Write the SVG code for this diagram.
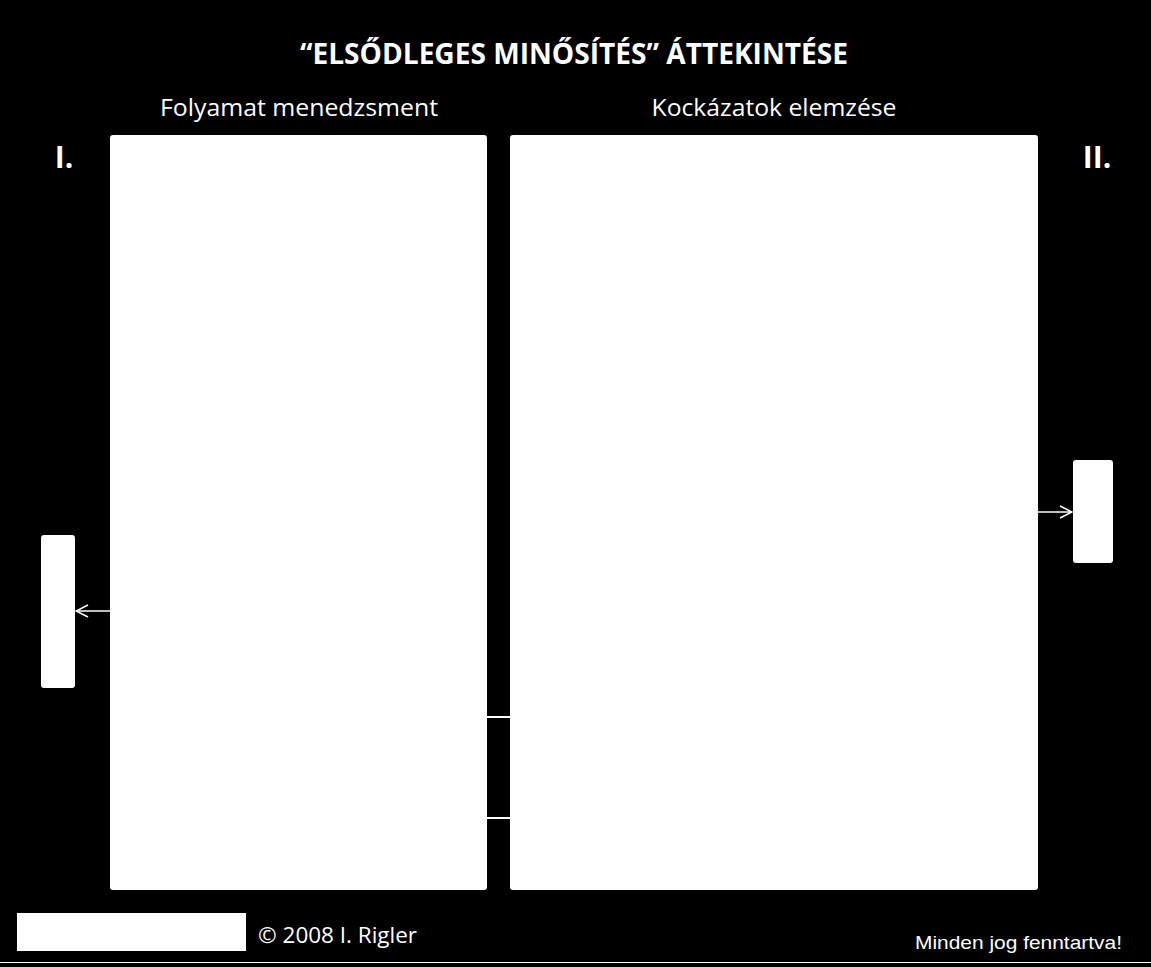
<svg xmlns="http://www.w3.org/2000/svg" width="1151" height="967" viewBox="0 0 1151 967">
<defs>
<style>
.bg{fill:#000}
.box{fill:#fff}
.t{fill:#fff;font-family:"Open Sans","Liberation Sans",sans-serif}
.conn{stroke:#fff;stroke-width:1.5;fill:none}
.bar{stroke:#fff;stroke-width:2;fill:none}
</style>
<marker id="arr" viewBox="0 0 14 14" refX="13" refY="7" markerWidth="14" markerHeight="14" markerUnits="userSpaceOnUse" orient="auto">
<path d="M1,1 L13,7 L1,13" fill="none" stroke="#fff" stroke-width="1.5"/>
</marker>
</defs>
<rect class="bg" x="0" y="0" width="1151" height="967"/>
<line x1="0" y1="962.5" x2="1151" y2="962.5" stroke="#fff" stroke-width="1"/>
<text class="t" x="574" y="64" font-size="28" font-weight="bold" text-anchor="middle" textLength="548" lengthAdjust="spacingAndGlyphs">“ELSŐDLEGES MINŐSÍTÉS” ÁTTEKINTÉSE</text>
<text class="t" x="299" y="116" font-size="24" text-anchor="middle" textLength="278" lengthAdjust="spacingAndGlyphs">Folyamat menedzsment</text>
<text class="t" x="774" y="116" font-size="24" text-anchor="middle" textLength="245" lengthAdjust="spacingAndGlyphs">Kockázatok elemzése</text>
<text class="t" x="64" y="168" font-size="30" font-weight="bold" text-anchor="middle">I.</text>
<text class="t" x="1097" y="168" font-size="30" font-weight="bold" text-anchor="middle">II.</text>
<g id="box-folyamat"><rect class="box" x="110" y="135" width="377" height="755" rx="3"/></g>
<g id="box-kockazat"><rect class="box" x="510" y="135" width="528" height="755" rx="3"/></g>
<g id="box-left-small"><rect class="box" x="41" y="535" width="34" height="153" rx="3"/></g>
<g id="box-right-small"><rect class="box" x="1073" y="460" width="40" height="103" rx="3"/></g>
<g id="connectors">
<line class="conn" x1="110" y1="611" x2="76" y2="611" marker-end="url(#arr)"/>
<line class="conn" x1="1038" y1="512" x2="1072" y2="512" marker-end="url(#arr)"/>
<line class="bar" x1="487" y1="717" x2="510" y2="717"/>
<line class="bar" x1="487" y1="818" x2="510" y2="818"/>
</g>
<g id="footer-logo"><rect class="box" x="17" y="913" width="229" height="38"/></g>
<text class="t" x="258" y="943" font-size="22" textLength="159" lengthAdjust="spacingAndGlyphs">© 2008 I. Rigler</text>
<text x="915" y="949" font-size="19" fill="#fff" font-family="'Liberation Sans',Arial,sans-serif" textLength="207" lengthAdjust="spacingAndGlyphs">Minden jog fenntartva!</text>
</svg>
